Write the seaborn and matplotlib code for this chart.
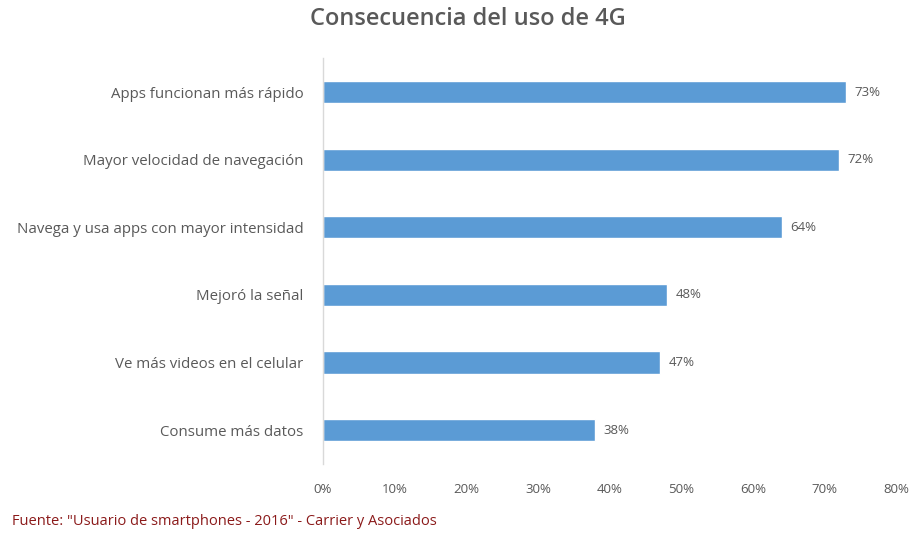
import matplotlib
matplotlib.use("Agg")
import matplotlib.pyplot as plt
import seaborn as sns
import pandas as pd
from matplotlib.ticker import FuncFormatter

categorias = [
    "Apps funcionan más rápido",
    "Mayor velocidad de navegación",
    "Navega y usa apps con mayor intensidad",
    "Mejoró la señal",
    "Ve más videos en el celular",
    "Consume más datos",
]
porcentajes = [73, 72, 64, 48, 47, 38]
ticks_x = [0, 10, 20, 30, 40, 50, 60, 70, 80]

sns.set_theme(style="white")
plt.rcParams["font.family"] = ["Open Sans", "DejaVu Sans"]

df = pd.DataFrame({"categoria": categorias, "valor": porcentajes})

fig = plt.figure(figsize=(9.21, 5.44), dpi=100)
ax = fig.add_axes([0.3507, 0.147, 0.6223, 0.746])

sns.barplot(data=df, x="valor", y="categoria", color="#5B9BD5",
            saturation=1, width=0.33, ax=ax, orient="h")

for i, v in enumerate(porcentajes):
    ax.text(v + 1.2, i, f"{v}%", va="center", ha="left",
            fontsize=9.5, color="#595959")

ax.set_xlim(0, 80)
ax.set_ylim(5.5, -0.5)
ax.set_xticks(ticks_x)
ax.xaxis.set_major_formatter(FuncFormatter(lambda x, _: f"{x:.0f}%"))
ax.set_xlabel("")
ax.set_ylabel("")
ax.tick_params(axis="x", length=0, pad=14, labelsize=9.5, labelcolor="#595959")
ax.tick_params(axis="y", length=0, pad=14, labelsize=10.8, labelcolor="#595959")

for s in ["top", "right", "bottom"]:
    ax.spines[s].set_visible(False)
ax.spines["left"].set_color("#D9D9D9")
ax.spines["left"].set_linewidth(1)

fig.text(0.508, 0.965, "Consecuencia del uso de 4G", ha="center", va="center",
         fontsize=17, fontweight="semibold", color="#595959")
fig.text(0.013, 0.042, "Fuente: \"Usuario de smartphones - 2016\" - Carrier y Asociados",
         ha="left", va="center", fontsize=10.5, color="#8B1A1A")

fig.savefig("out.png", dpi=100)
